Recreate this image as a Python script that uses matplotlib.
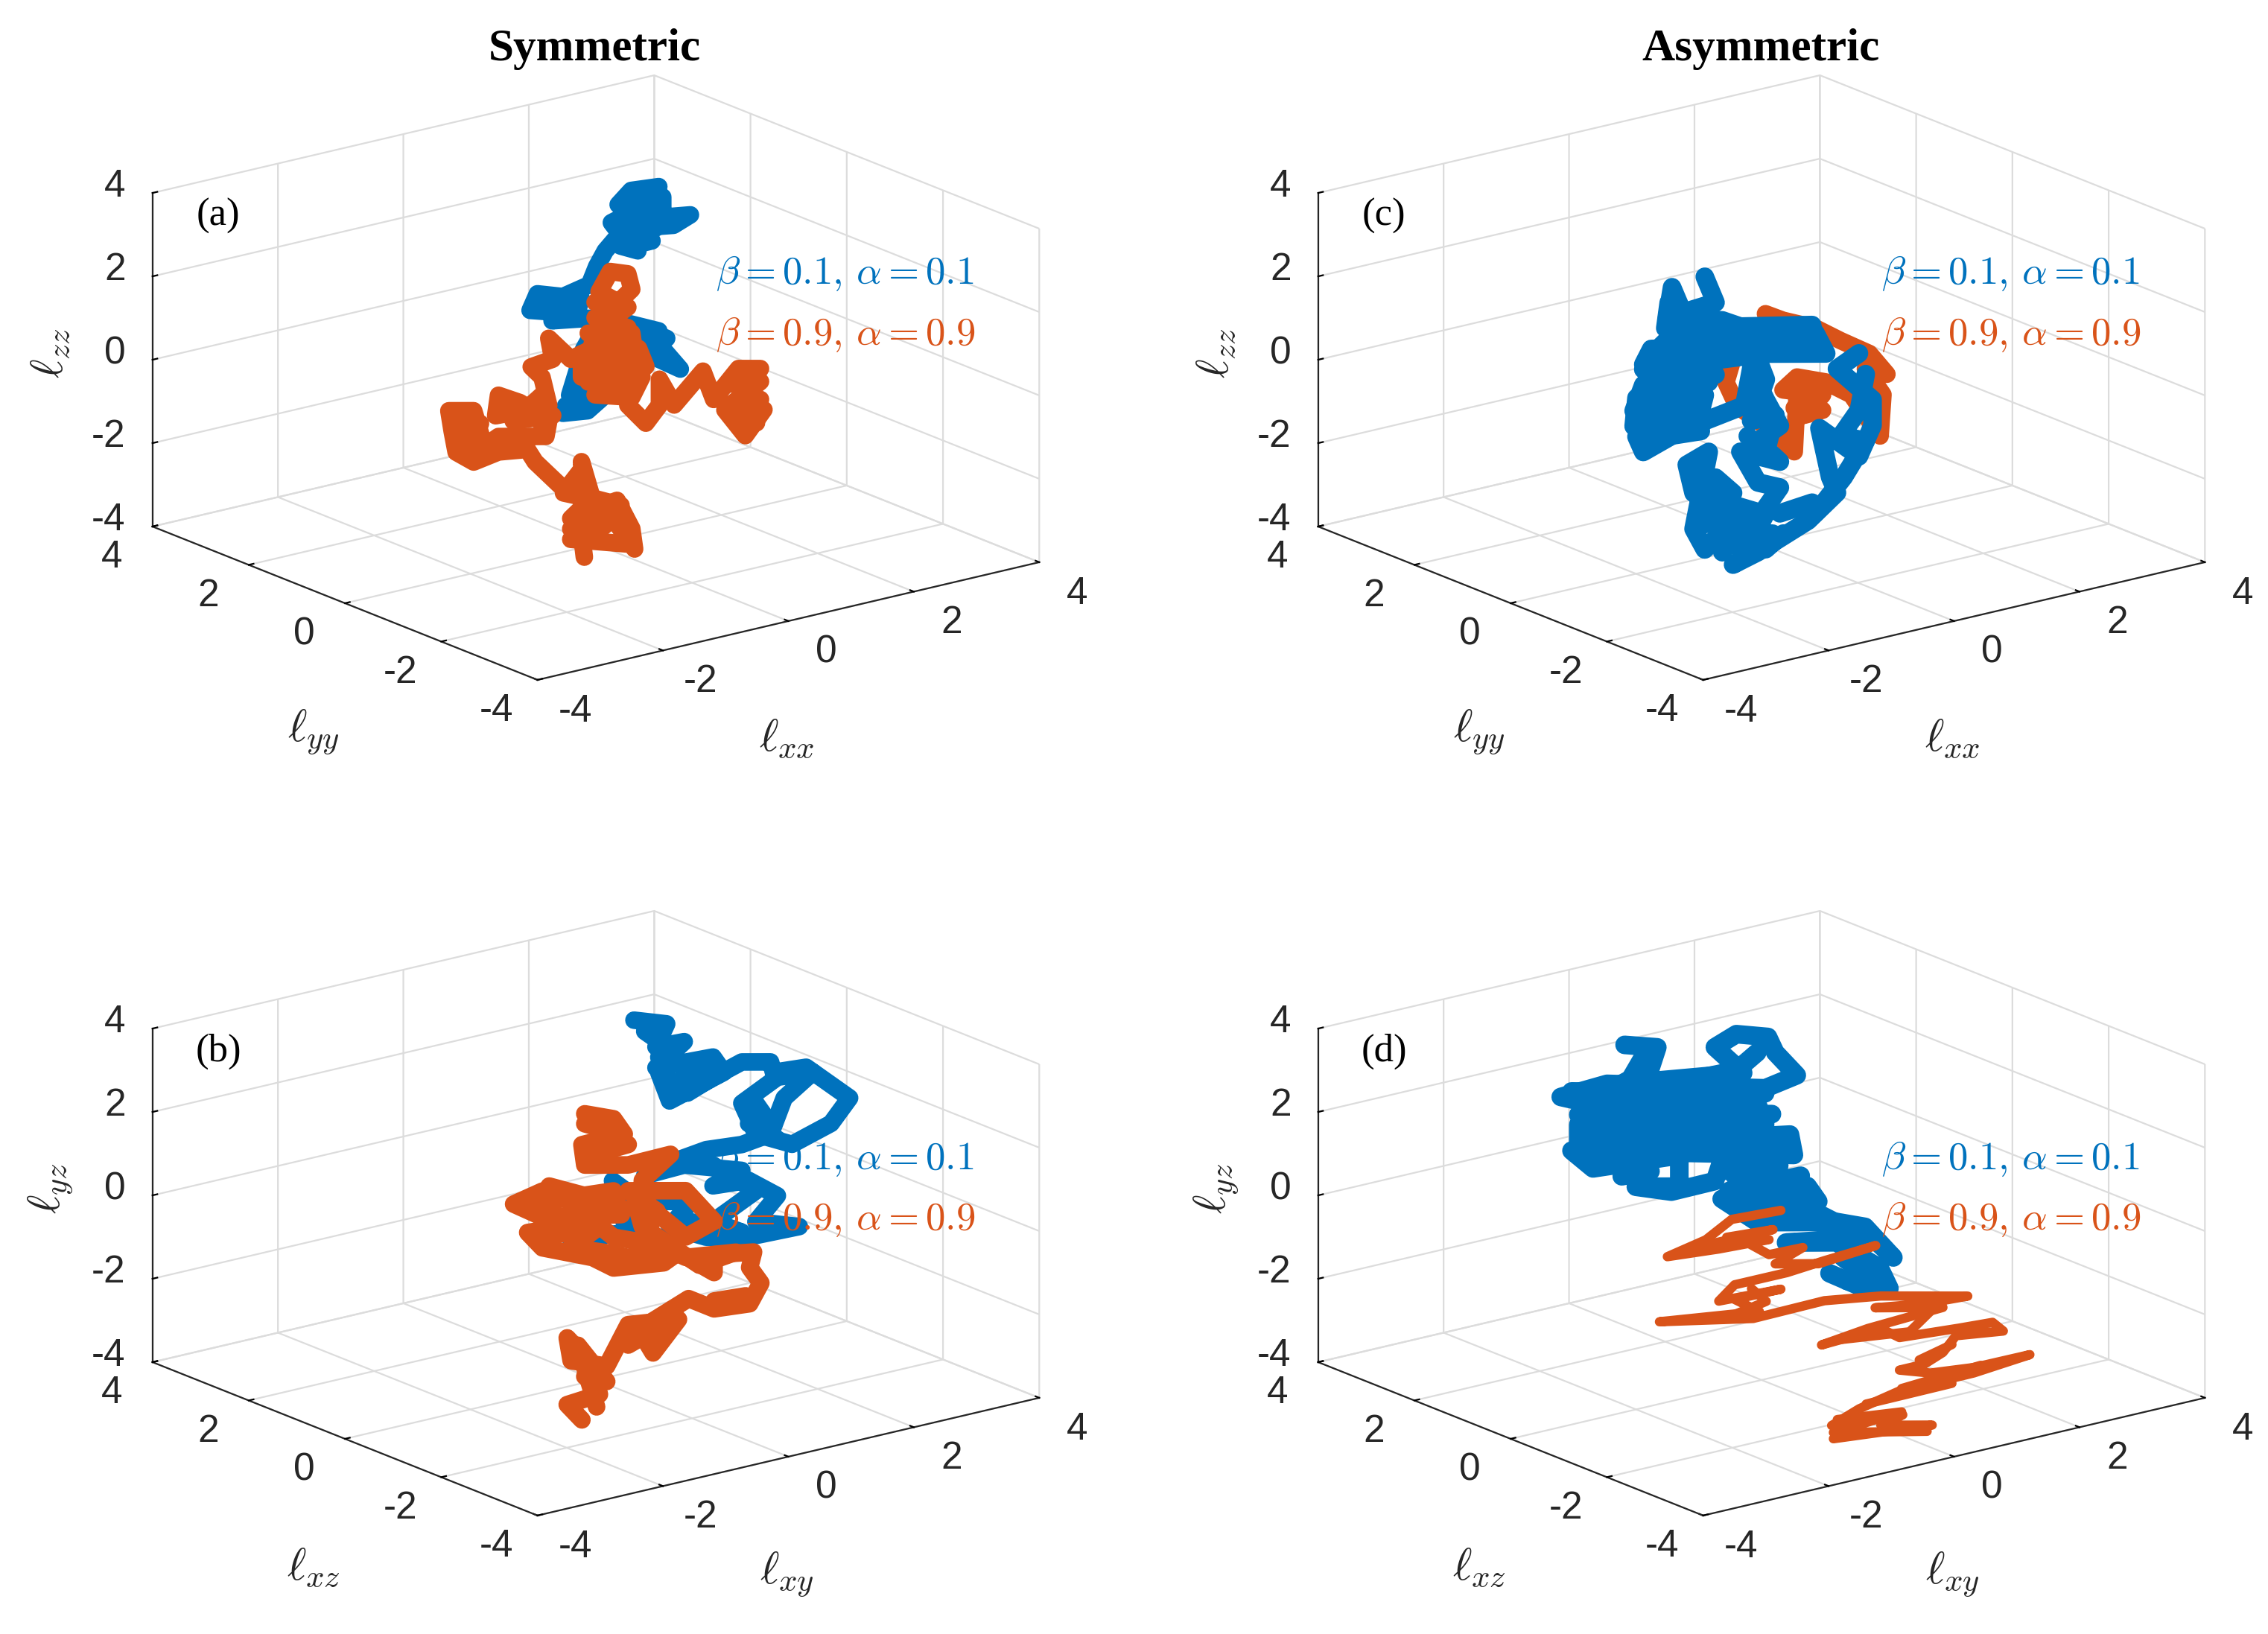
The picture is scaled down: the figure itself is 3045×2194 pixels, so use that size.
import matplotlib
matplotlib.use("Agg")
import matplotlib.pyplot as plt

plt.rcParams['font.family'] = ['Liberation Sans']
plt.rcParams['mathtext.fontset'] = 'cm'

BLUE = '#0072BD'
ORANGE = '#D95319'
DARK = '#262626'
GRID = '#dcdcdc'
nan = float('nan')

ticks = [-4, -2, 0, 2, 4]
legend_blue = r'$\beta = 0.1,\, \alpha = 0.1$'
legend_orange = r'$\beta = 0.9,\, \alpha = 0.9$'

# panel (a)
a_blue_x = [1.64,1.36,1.23,1.68,1.68,1.36,1.16,1.28,1.64,1.96,1.79,1.43,1.36,1.57,1.25,1.10,1.01,.94,.67,.41,.34,.67,.85,.81,.56,.96,1.32,1.64,1.50,1.68,1.86,1.64,1.46,1.0,.88,.74,1.10,.92,.67,.96]
a_blue_y = [.83,1.04,1.14,.80,.80,1.04,1.19,1.10,.83,.59,.72,.99,1.04,.88,1.12,1.24,1.30,1.36,1.56,1.75,1.81,1.56,1.42,1.45,1.64,1.34,1.07,.83,.94,.80,.67,.83,.97,1.31,1.40,1.51,1.24,1.37,1.56,1.34]
a_blue_z = [3.62,3.53,3.19,3.37,3.13,3.00,2.76,2.39,2.88,2.94,2.69,2.63,2.20,2.32,2.51,2.08,1.71,1.27,.99,1.06,.66,.60,.97,.53,.41,.47,.35,.16,-.15,-.27,-.76,-.52,-.02,.23,-.27,-1.38,-1.38,-1.75,-1.81,-1.13]
a_blue_fx = [1.50,1.50,1.32,1.61,1.25,1.43,nan,.70,1.14,.81,nan,1.46,1.72]
a_blue_fy = [.94,.94,1.07,.85,1.12,.99,nan,1.54,1.21,1.45,nan,.97,.77]
a_blue_fz = [3.56,3.19,2.82,2.63,2.20,2.08,nan,-1.63,-1.26,-1.75,nan,.23,-.02]
a_orange_x = [-1.12,-1.15,-1.26,-1.01,-.83,-.61,-.64,-.79,-1.01,-1.15,-1.12,-1.37,-1.62,-1.70,-1.99,-2.24,-2.42,-2.46,-2.49,-2.24,-2.13,-1.99,-1.51,-1.48,-1.77,-1.99,-2.02,-1.48,-1.55,-1.66,-1.44,-1.48,-1.26,-1.04,-.97,-.68,-.97,-.86,-.68,-.64,-.83,-1.01,-.68,-1.04,-.57,-.50,-1.12,-1.08,-.64,-.68,-.50,-.36,-.36,-.21,.08,.19,.44,.66,.48,.70,.51,.30,.55]
a_orange_y = [-1.22,-1.20,-1.12,-1.30,-1.44,-1.60,-1.58,-1.47,-1.30,-1.20,-1.22,-1.03,-.85,-.79,-.57,-.38,-.25,-.22,-.19,-.38,-.46,-.57,-.93,-.95,-.73,-.57,-.55,-.95,-.90,-.82,-.98,-.95,-1.12,-1.28,-1.33,-1.55,-1.33,-1.42,-1.55,-1.58,-1.44,-1.30,-1.55,-1.28,-1.63,-1.69,-1.22,-1.25,-1.58,-1.55,-1.69,-1.79,-1.79,-1.90,-2.12,-2.20,-2.39,-2.56,-2.42,-2.58,-2.44,-2.29,-2.47]
a_orange_z = [-3.35,-2.79,-2.67,-2.79,-2.42,-3.16,-2.67,-1.99,-2.18,-1.06,-1.81,-1.62,-1.06,-.76,-.82,-1.06,-.82,-.32,.17,.17,-.69,-.45,-.45,-.08,.36,.54,.05,.29,.97,1.22,1.40,1.90,1.40,1.65,2.15,2.64,3.01,3.50,3.44,3.07,2.64,2.39,2.15,1.77,1.65,1.22,1.28,.85,.79,.29,-.14,.29,.91,.29,1.10,.42,1.16,1.16,.54,.17,-.45,.17,.66]
a_orange_fx = [-1.26,-.68,-.72,-1.26,-1.04,-.75,-1.33,-1.15,nan,-1.08,-.64,-.61,-1.15,-1.15,-.54,-.64,-1.01,-.83,-.83,-.75,-1.01,nan,-2.42,-2.17,-2.38,-2.24,-2.28,nan,-1.95,-1.44,-1.84,-1.55,-1.55,nan,.37,.66,.37,.66,.44,.62]
a_orange_fy = [-1.12,-1.55,-1.52,-1.12,-1.28,-1.50,-1.06,-1.20,nan,-1.25,-1.58,-1.60,-1.20,-1.20,-1.66,-1.58,-1.30,-1.44,-1.44,-1.50,-1.30,nan,-.25,-.43,-.27,-.38,-.35,nan,-.60,-.98,-.68,-.90,-.90,nan,-2.34,-2.56,-2.34,-2.56,-2.39,-2.53]
a_orange_fz = [-2.92,-3.04,-2.42,-2.42,-1.93,-2.11,-1.81,-1.25,nan,2.02,2.02,1.53,1.53,.97,.97,.48,.54,1.16,2.15,2.64,2.76,nan,-.14,-.14,-.69,-.94,-.45,nan,.23,.05,-.08,.54,-.20,nan,.79,.85,.29,.42,-.20,-.14]

# panel (b)
b_blue_x = [1.39,1.72,1.61,1.90,1.61,2.19,2.30,1.75,1.64,1.93,2.19,2.48,2.77,2.80,3.13,3.57,3.38,2.99,2.62,2.48,2.84,3.20,2.91,2.77,2.48,2.12,1.83,1.50,1.90,2.48,2.19,2.55,2.84,2.62,3.06,2.55,2.12,1.75,1.97,1.46,1.17,1.32,.88,.74]
b_blue_y = [1.02,.77,.85,.64,.85,.42,.34,.75,.83,.61,.42,.20,-.02,-.04,-.29,-.62,-.48,-.18,.09,.20,-.07,-.34,-.12,-.02,.20,.47,.69,.94,.64,.20,.42,.15,-.07,.09,-.24,.15,.47,.75,.58,.97,1.18,1.07,1.40,1.51]
b_blue_z = [3.67,3.58,3.03,3.15,2.53,2.78,2.41,1.73,2.41,1.92,2.29,2.66,2.66,2.41,2.53,1.79,1.18,.68,.93,1.67,2.29,2.41,1.79,.93,.68,.56,.31,-.06,.19,.06,-.31,-.18,-.55,-1.17,-1.29,-1.54,-1.54,-1.29,-.68,-.68,-.18,-1.42,-1.54,-1.79]
b_blue_fx = [1.50,1.80,1.64,2.08,1.80,nan,2.62,2.73,2.55,2.84,nan,2.19,2.62,2.19,2.48,1.97]
b_blue_fy = [.94,.71,.83,.50,.71,nan,.09,.01,.15,-.07,nan,.42,.09,.42,.20,.58]
b_blue_fz = [3.40,2.90,2.78,2.53,2.16,nan,1.67,1.30,1.18,.81,nan,.19,-.43,-1.17,-1.42,-1.17]
b_orange_x = [-1.65,-1.80,-1.47,-1.58,-1.80,-1.76,-1.40,-1.18,-.67,-.93,-1.07,-.57,-.31,.05,.16,.05,.09,-.31,-.31,-.67,-.82,-1.33,-1.54,-2.05,-2.20,-1.83,-2.34,-2.05,-1.91,-1.40,-1.98,-1.33,-1.04,-.89,-1.18,-.60,-.31,-.60,-1.04,-1.04,-.75,-1.18,-1.62,-1.65,-1.22,-1.33,-1.62,-1.40]
b_orange_y = [-1.86,-1.75,-1.99,-1.91,-1.75,-1.78,-2.05,-2.21,-2.59,-2.40,-2.29,-2.67,-2.86,-3.13,-3.22,-3.13,-3.16,-2.86,-2.86,-2.59,-2.48,-2.10,-1.94,-1.56,-1.45,-1.72,-1.34,-1.56,-1.66,-2.05,-1.61,-2.10,-2.32,-2.43,-2.21,-2.65,-2.86,-2.65,-2.32,-2.32,-2.53,-2.21,-1.88,-1.86,-2.18,-2.10,-1.88,-2.05]
b_orange_z = [-3.52,-3.15,-2.91,-2.10,-1.55,-2.10,-2.23,-1.24,-1.12,-1.92,-1.36,-.62,-.87,-.75,-.25,.12,.49,.43,0,.49,.24,.12,.37,.61,.98,1.11,1.66,1.97,1.23,1.72,2.09,.86,.74,1.48,1.97,1.97,1.23,.86,1.72,2.22,2.84,2.59,2.59,3.08,3.33,3.70,3.82,3.51]
b_orange_fx = [-2.05,-1.33,-1.25,-2.05,-2.05,-1.47,-1.76,-1.40,-1.18,-.82,-.60,-.09,-.46,-1.04,-1.11,nan,-1.62,-1.40,-1.69,-1.50,nan,-1.18,-.82,-.96,nan,-.31,.01,nan,-1.62,-1.33,-1.54,-1.18]
b_orange_fy = [-1.56,-2.10,-2.16,-1.56,-1.56,-1.99,-1.77,-2.05,-2.21,-2.48,-2.65,-3.03,-2.75,-2.32,-2.26,nan,-1.88,-2.05,-1.83,-1.97,nan,-2.21,-2.48,-2.38,nan,-2.86,-3.10,nan,-1.88,-2.10,-1.94,-2.21]
b_orange_fz = [1.72,1.97,1.40,1.35,.86,1.11,.61,.49,.37,.61,.37,.49,.18,1.11,1.72,nan,-2.48,-2.60,-1.73,-3.21,nan,-1.73,-1.24,-1.55,nan,-.68,-.56,nan,3.58,3.39,2.84,3.08]

# panel (c)
c_blue_x = [-1.58,-1.47,-1.80,-1.91,-1.96,-1.40,-1.18,-1.94,-2.16,-.46,-.35,-.96,-2.20,-1.69,-1.47,-2.20,-2.30,-1.58,-1.62,-2.27,-2.20,-1.83,-1.58,-1.18,-1.11,-.96,-.82,-1.04,-.82,-1.22,-1.04,-.82,-1.0,-1.69,-1.76,-1.54,-1.69,-1.58,-1.40,-1.18,-.96,-.78,-1.29,-1.04,-.53,-.24,-.31,-.42,-.02,.12,.12,-.24,-.02]
c_blue_y = [-.88,-.96,-.71,-.63,-.59,-1.01,-1.18,-.60,-.44,-1.72,-1.80,-1.34,-.41,-.79,-.96,-.41,-.34,-.88,-.85,-.36,-.41,-.69,-.88,-1.18,-1.23,-1.34,-1.45,-1.28,-1.45,-1.15,-1.28,-1.45,-1.31,-.79,-.74,-.91,-.79,-.88,-1.01,-1.18,-1.34,-1.47,-1.09,-1.28,-1.66,-1.88,-1.83,-1.75,-2.05,-2.15,-2.15,-1.88,-2.05]
c_blue_z = [3.38,2.76,2.52,3.13,2.39,2.33,2.15,1.90,1.40,2.02,1.53,1.53,1.16,1.53,1.03,.79,.17,.54,.17,-.45,-.82,-.32,-.08,.29,1.16,.42,-.20,-.57,-1.06,-.82,-1.56,-1.68,-2.30,-1.81,-1.13,-.82,-2.67,-3.16,-2.73,-2.30,-3.16,-2.79,-3.53,-3.23,-2.48,-1.81,-1.44,-.26,-.94,-.20,.42,1.16,1.53]
c_blue_fx = [-1.94,-1.98,-.49,-.46,-2.12,-2.20,-1.47,-1.54,-2.27,-2.30,-1.69,-1.98,-1.62,nan,-1.04,-.96,-1.11,-.86,-.96,-1.14,nan,-1.62,-1.47,-1.58,-1.11,-1.22,-.89,-1.07,-.93,nan,-.46,-.17,.05,-.20,-.02,.05,nan,-1.47,-1.29,-1.47,-1.25,-1.40,nan,-.82,-.49,nan,-1.91,-1.83,-2.05,-1.91]
c_blue_fy = [-.60,-.58,-1.69,-1.72,-.47,-.41,-.96,-.91,-.36,-.34,-.79,-.58,-.85,nan,-1.28,-1.34,-1.23,-1.41,-1.34,-1.20,nan,-.85,-.96,-.88,-1.23,-1.15,-1.39,-1.26,-1.36,nan,-1.72,-1.93,-2.10,-1.91,-2.05,-2.10,nan,-.96,-1.09,-.96,-1.12,-1.01,nan,-1.45,-1.69,nan,-.63,-.69,-.52,-.63]
c_blue_fz = [2.76,2.15,2.21,1.77,1.65,1.28,1.40,.85,.48,-.20,.17,-.45,-.32,nan,1.40,.91,-.08,.05,-.82,-.45,nan,-1.44,-2.18,-2.55,-2.42,-3.16,-2.79,-2.79,-2.18,nan,-2.30,-1.44,-.57,-.45,.17,1.03,nan,-1.44,-1.81,-2.42,-2.67,-3.23,nan,-2.30,-2.05,nan,1.16,.17,.29,.66]
c_orange_x = [.04,.22,.54,.80,1.09,1.27,1.05,1.23,1.20,1.05,.91,.65,.36,.22,.62,.43,.62,.36,.33,.18,-.25,-.36,-.29]
c_orange_y = [-.03,-.16,-.41,-.60,-.82,-.95,-.79,-.92,-.90,-.79,-.68,-.49,-.27,-.16,-.46,-.32,-.46,-.27,-.25,-.14,.19,.27,.22]
c_orange_z = [1.53,1.37,1.19,.88,.57,.07,.20,-.42,-1.41,-.91,-.42,-.11,.01,-.30,-.42,-.91,-.79,-.42,-1.78,-1.41,-.67,-.11,.44]
c_orange_fx = [.29,.58,.33,.54,nan,1.16,1.05]
c_orange_fy = [-.22,-.44,-.25,-.41,nan,-.87,-.79]
c_orange_fz = [-.17,-.30,-.73,-.73,nan,.32,-.20]

# panel (d)
d_blue_x = [-.38,-.05,-.12,-.41,.82,.53,.75,1.07,1.14,1.36,1.04,-.56,-1.03,-.70,.96,1.04,-.85,-.85,1.29,1.33,-.92,-.70,.17,.17,-.27,.09,.53,.60,.96,1.47,1.58,.60,.96,1.76,2.05,2.34,2.12,1.25,1.76,2.20,2.30,2.05,1.69]
d_blue_y = [2.35,2.10,2.15,2.37,1.45,1.66,1.50,1.26,1.20,1.04,1.28,2.48,2.83,2.59,1.34,1.28,2.70,2.70,1.09,1.06,2.75,2.59,1.93,1.93,2.26,1.99,1.66,1.61,1.34,.96,.88,1.61,1.34,.74,.52,.31,.47,1.12,.74,.41,.34,.52,.79]
d_blue_z = [3.09,3.03,2.53,2.16,2.41,3.03,3.34,3.27,2.90,2.35,2.04,2.16,1.85,1.67,1.67,1.18,1.18,.68,.93,.44,.56,.13,.44,-.31,-.31,-.43,-.18,.31,-.68,-.31,-.68,-.61,-1.17,-1.17,-1.29,-2.03,-1.54,-1.66,-1.66,-2.28,-2.77,-2.77,-2.40]
d_blue_fx = [-.20,-.41,.75,.96,nan,-.92,1.04,nan,-.85,1.11,nan,-.77,1.25,nan,-.49,-.12,-.41,nan,.60,1.18,.67,1.40,nan,.82,1.54,2.05,nan,1.83,2.12,1.87]
d_blue_fy = [2.21,2.37,1.50,1.34,nan,2.75,1.28,nan,2.70,1.23,nan,2.64,1.12,nan,2.43,2.15,2.37,nan,1.61,1.17,1.56,1.01,nan,1.45,.91,.52,nan,.69,.47,.66]
d_blue_fz = [2.78,1.92,2.47,2.90,nan,1.98,1.92,nan,1.42,1.42,nan,.93,.68,nan,.31,.06,-.06,nan,.06,.19,-.43,-.06,nan,-.92,-.92,-1.54,nan,-2.03,-2.53,-2.59]
d_orange_x = [-1.51,-2.01,-2.27,-2.66,-2.14,-1.63,-1.95,-1.63,-1.29,-1.57,-1.13,-.55,-1.07,-1.45,-1.98,-2.14,-1.51,-1.98,-1.73,-2.74,-1.79,-1.07,-.50,.38,-.06,-.56,.13,-.63,-1.10,-.50,-.31,.29,.63,.74,.26,.13,-.06,-.31,0,.44,1.01,.44,-.31,-.72,-1.0,-.28,-.50,.02,-.98]
d_orange_y = [-2.37,-2.0,-1.80,-1.51,-1.90,-2.28,-2.04,-2.28,-2.54,-2.33,-2.66,-3.09,-2.70,-2.42,-2.02,-1.90,-2.37,-2.02,-2.21,-1.45,-2.16,-2.70,-3.13,-3.79,-3.46,-3.09,-3.60,-3.03,-2.68,-3.13,-3.27,-3.72,-3.98,-4.06,-3.70,-3.60,-3.46,-3.27,-3.51,-3.84,-4.26,-3.84,-3.27,-2.97,-2.76,-3.30,-3.13,-3.52,-2.77]
d_orange_z = [1.69,1.48,.99,.59,.77,.99,1.05,.63,.80,.41,.41,.84,.48,.20,-.09,-.48,-.20,-.44,-.73,-.97,-.90,-.48,-.37,-.38,-.56,-.65,-.65,-1.15,-1.54,-1.15,-1.37,-1.15,-1.01,-1.22,-1.33,-1.73,-2.01,-2.15,-2.22,-2.09,-1.79,-2.22,-2.65,-3.07,-3.47,-3.22,-3.47,-3.47,-3.79]
d_orange_fx = [-.94,-.29,-.98,-.03,nan,-2.10,-1.66,-1.81,nan,0,-.21,-.94,nan,.22,-.11,nan,.51,-.29,nan,-.65,.22,nan,-2.39,-1.59,-2.06]
d_orange_fy = [-2.80,-3.29,-2.77,-3.48,nan,-1.93,-2.26,-2.15,nan,-3.51,-3.35,-2.80,nan,-3.67,-3.42,nan,-3.89,-3.29,nan,-3.02,-3.67,nan,-1.71,-2.31,-1.96]
d_orange_fz = [-3.33,-3.15,-3.64,-3.62,nan,-.92,-.49,-.18,nan,-.74,-1.23,-1.42,nan,-1.54,-1.91,nan,-2.04,-2.59,nan,-2.96,-2.47,nan,.80,1.23,1.05]

W, H = 3045, 2194
fig = plt.figure(figsize=(W / 100, H / 100), dpi=100)


def make_panel(cx, cy, zname, yname, xname, letter, leg1, leg2):
    # cx, cy = where the centre of the box lands, in figure pixels from top left
    L = 1252
    rect = [(cx - 0.5135 * L) / W, (H - cy - 0.5135 * L) / H, L / W, L / H]
    ax = fig.add_axes(rect, projection='3d', proj_type='ortho', computed_zorder=False)
    ax.set_facecolor('none')
    ax.view_init(elev=17.8, azim=-127.5)
    ax.set_box_aspect((1, 1, 0.554))
    ax.set_xlim(-4, 4)
    ax.set_ylim(-4, 4)
    ax.set_zlim(-4, 4)
    ax.set_xticks(ticks)
    ax.set_yticks(ticks)
    ax.set_zticks(ticks)
    ax.set_xticklabels([])
    ax.set_yticklabels([])
    ax.set_zticklabels([])
    for axis in (ax.xaxis, ax.yaxis, ax.zaxis):
        axis.set_pane_color((1, 1, 1, 0))
        axis.pane.set_edgecolor(GRID)
        axis.pane.set_linewidth(1.6)
        axis.line.set_color(DARK)
        axis.line.set_linewidth(1.6)
        axis._axinfo['grid'].update(color=GRID, linewidth=1.6)
        axis._axinfo['tick'].update(color=DARK, linewidth={True: 1.6, False: 1.0}, inward_factor=0, outward_factor=0.12)
    for t in ticks:
        ax.text(t, -4.78, -4.4, str(t), fontsize=37, color=DARK, ha='center', va='center')
        ax.text(-4.65, t, -4.52, str(t), fontsize=37, color=DARK, ha='center', va='center')
        ax.text(-4.43, 4, t + 0.3, str(t), fontsize=37, color=DARK, ha='right', va='center')
    fig.text((cx - 732) / W, (H - cy + 33) / H, zname, fontsize=44, color=DARK, rotation=90, ha='center', va='center')
    fig.text((cx - 379) / W, (H - cy - 476) / H, yname, fontsize=44, color=DARK, ha='center', va='center')
    fig.text((cx + 256) / W, (H - cy - 485) / H, xname, fontsize=44, color=DARK, ha='center', va='center')
    fig.text((cx - 507) / W, (H - cy + 217) / H, letter, fontsize=38, family='Liberation Serif', color='black',
             ha='center', va='center')
    fig.text((cx + 161) / W, (H - cy + leg1) / H, legend_blue, fontsize=38, color=BLUE, ha='left', va='center')
    fig.text((cx + 161) / W, (H - cy + leg2) / H, legend_orange, fontsize=38, color=ORANGE, ha='left', va='center')
    return ax


def draw(ax, x, y, z, fx, fy, fz, color, lw, order):
    ax.plot(x, y, z, color=color, lw=lw, solid_capstyle='round', solid_joinstyle='round', zorder=order)
    ax.plot(fx, fy, fz, color=color, lw=lw, solid_capstyle='round', solid_joinstyle='round', zorder=order)


ax_a = make_panel(800, 507, r'$\ell_{zz}$', r'$\ell_{yy}$', r'$\ell_{xx}$', '(a)', 140, 58)
draw(ax_a, a_blue_x, a_blue_y, a_blue_z, a_blue_fx, a_blue_fy, a_blue_fz, BLUE, 17, 5)
draw(ax_a, a_orange_x, a_orange_y, a_orange_z, a_orange_fx, a_orange_fy, a_orange_fz, ORANGE, 17, 6)

ax_b = make_panel(800, 1629, r'$\ell_{yz}$', r'$\ell_{xz}$', r'$\ell_{xy}$', '(b)', 73, -8)
draw(ax_b, b_blue_x, b_blue_y, b_blue_z, b_blue_fx, b_blue_fy, b_blue_fz, BLUE, 17, 5)
draw(ax_b, b_orange_x, b_orange_y, b_orange_z, b_orange_fx, b_orange_fy, b_orange_fz, ORANGE, 17, 6)

ax_c = make_panel(2365, 507, r'$\ell_{zz}$', r'$\ell_{yy}$', r'$\ell_{xx}$', '(c)', 140, 58)
draw(ax_c, c_orange_x, c_orange_y, c_orange_z, c_orange_fx, c_orange_fy, c_orange_fz, ORANGE, 17, 5)
draw(ax_c, c_blue_x, c_blue_y, c_blue_z, c_blue_fx, c_blue_fy, c_blue_fz, BLUE, 18, 6)

ax_d = make_panel(2365, 1629, r'$\ell_{yz}$', r'$\ell_{xz}$', r'$\ell_{xy}$', '(d)', 73, -8)
draw(ax_d, d_blue_x, d_blue_y, d_blue_z, d_blue_fx, d_blue_fy, d_blue_fz, BLUE, 18, 5)
draw(ax_d, d_orange_x, d_orange_y, d_orange_z, d_orange_fx, d_orange_fy, d_orange_fz, ORANGE, 9, 6)

fig.text(798 / W, (H - 66) / H, 'Symmetric', fontsize=44, family='Liberation Serif', weight='bold', ha='center', va='center')
fig.text(2364 / W, (H - 66) / H, 'Asymmetric', fontsize=44, family='Liberation Serif', weight='bold', ha='center', va='center')

fig.savefig('out.png', dpi=100)
